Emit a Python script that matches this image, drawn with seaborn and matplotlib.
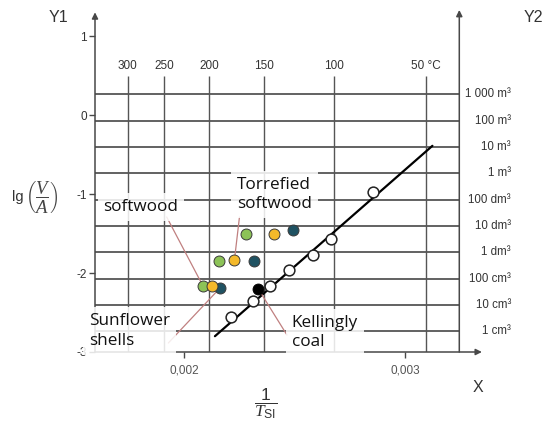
import numpy as np
import pandas as pd
import matplotlib
matplotlib.use("Agg")
import matplotlib.pyplot as plt
from matplotlib.transforms import blended_transform_factory
import seaborn as sns

sns.set_theme(style="white")
plt.rcParams['font.family'] = ['Liberation Sans', 'DejaVu Sans']
plt.rcParams['mathtext.fontset'] = 'custom'
plt.rcParams['mathtext.rm'] = 'Liberation Sans'
plt.rcParams['mathtext.it'] = 'Liberation Serif:italic'
plt.rcParams['mathtext.bf'] = 'Liberation Sans:bold'

# ---- data -------------------------------------------------------------
# temperature reference lines (deg C) shown along the top
temps_c = [300, 250, 200, 150, 100, 50]
temp_labels = ["300", "250", "200", "150", "100", "50 °C"]

# volume decades (exponent of m³) on the right-hand scale
vol_exponents = [3, 2, 1, 0, -1, -2, -3, -4, -5, -6]
vol_labels = ["1 000 m³", "100 m³", "10 m³", "1 m³", "100 dm³", "10 dm³",
              "1 dm³", "100 cm³", "10 cm³", "1 cm³"]

# left-hand scale ticks
y1_ticks = [1, 0, -1, -2, -3]
x_ticks = [0.002, 0.003]
x_tick_labels = ["0,002", "0,003"]

# biomass samples: 1/T (1/K) and lg(V/A)
green_x = [0.002281, 0.002160, 0.002087]
green_y = [-1.51, -1.85, -2.17]
yellow_x = [0.002409, 0.002228, 0.002128]
yellow_y = [-1.50, -1.84, -2.17]
teal_x = [0.002495, 0.002315, 0.002163]
teal_y = [-1.46, -1.85, -2.19]

# Kellingly coal
coal_x = [0.002336]
coal_y = [-2.20]

# reference measurements and fitted line
ref_x = [0.002211, 0.002314, 0.002389, 0.002477, 0.002582, 0.002664, 0.002854]
ref_y = [-2.56, -2.35, -2.17, -1.96, -1.77, -1.57, -0.97]
fit_x = [0.002140, 0.003124]
fit_y = [-2.80, -0.39]

# ---- figure -----------------------------------------------------------
fig = plt.figure(figsize=(5.44, 4.25), dpi=100)
ax = fig.add_axes([95 / 544, 73 / 425, 364.3 / 544, 340 / 425])
XMIN, XMAX = 0.0015973, 0.0032457
YMIN, YMAX = -3.0, 1.304
ax.set_xlim(XMIN, XMAX)
ax.set_ylim(YMIN, YMAX)
for s in ax.spines.values():
    s.set_visible(False)

grid_c = "#555555"
axis_c = "#484848"

# volume gridlines (3 decades of volume per unit of lg(V/A))
vol_y = [e / 3 - 0.738 for e in vol_exponents]
ax.hlines(vol_y, XMIN, XMAX, color=grid_c, lw=1.3, zorder=1)
# temperature gridlines
temp_x = [1 / (t + 273.15) for t in temps_c]
ax.vlines(temp_x, YMIN, 0.494, color=grid_c, lw=1.0, zorder=1)
for tx, lab in zip(temp_x, temp_labels):
    ax.text(tx, 0.62, lab, ha="center", va="center", fontsize=8.5,
            color="#333333")

# axes with arrow heads
arrow = dict(arrowstyle="-|>", color=axis_c, lw=1.1, mutation_scale=9,
             shrinkA=0, shrinkB=0)
ax.annotate("", xy=(XMIN, 1.30), xytext=(XMIN, YMIN), arrowprops=arrow,
            annotation_clip=False, zorder=2)
ax.annotate("", xy=(XMAX, 1.33), xytext=(XMAX, YMIN), arrowprops=arrow,
            annotation_clip=False, zorder=2)
ax.annotate("", xy=(0.003348, YMIN), xytext=(XMIN, YMIN), arrowprops=arrow,
            annotation_clip=False, zorder=2)

# ticks
ax.set_yticks(y1_ticks)
ax.set_yticklabels([str(t) for t in y1_ticks])
ax.set_xticks(x_ticks)
ax.set_xticklabels(x_tick_labels)
ax.tick_params(axis="y", left=True, length=4, width=1, color=axis_c, pad=2,
               labelsize=8.5, labelcolor="#333333")
ax.tick_params(axis="x", bottom=True, length=4, width=1, color=axis_c, pad=5,
               labelsize=8.5, labelcolor="#555555")

# right-hand volume labels
trans = blended_transform_factory(ax.transAxes, ax.transData)
for vy, lab in zip(vol_y, vol_labels):
    ax.text(1.142, vy, lab, transform=trans, ha="right", va="center",
            fontsize=8.3, color="#333333")

# axis titles
fig.text(58 / 544, 1 - 17 / 425, "Y1", ha="center", va="center", fontsize=11.5,
         color="#333333")
fig.text(533 / 544, 1 - 18 / 425, "Y2", ha="center", va="center", fontsize=11.5,
         color="#333333")
fig.text(478 / 544, 1 - 387 / 425, "X", ha="center", va="center", fontsize=11.5,
         color="#333333")
fig.text(18 / 544, 1 - 197 / 425, "lg", ha="center", va="center",
         fontsize=10.5, color="#333333")
fig.text(42 / 544, 1 - 197 / 425, r"$\left(\dfrac{V}{A}\right)$",
         ha="center", va="center", fontsize=13.5, color="#444444")
fig.text(266 / 544, 1 - 404 / 425, r"$\dfrac{1}{T_{\mathrm{SI}}}$",
         ha="center", va="center", fontsize=12.5, color="#333333")

# fitted line and reference points
sns.lineplot(x=fit_x, y=fit_y, ax=ax, color="black", lw=1.6, zorder=3)
sns.scatterplot(x=ref_x, y=ref_y, ax=ax, s=60, facecolor="white",
                edgecolor="#222222", linewidth=1.1, zorder=4)

# leader lines from labels to samples
lead_c = "#c08080"
leaders = [((0.0019217, -1.291), (green_x[2], green_y[2])),
           ((0.002251, -1.291), (yellow_x[1], yellow_y[1])),
           ((0.001929, -2.886), (teal_x[2], teal_y[2])),
           ((0.002466, -2.785), (coal_x[0], coal_y[0]))]
for (x0, y0), (x1, y1) in leaders:
    ax.plot([x0, x1], [y0, y1], color=lead_c, lw=0.9, zorder=3, clip_on=False)

# sample points
samples = pd.DataFrame({
    "inv_T": green_x + teal_x + yellow_x,
    "lg_VA": green_y + teal_y + yellow_y,
    "group": ["green"] * 3 + ["teal"] * 3 + ["yellow"] * 3,
})
colors = {"green": "#8cc257", "teal": "#1f5262", "yellow": "#f4b92a"}
for g in ["green", "teal", "yellow"]:
    d = samples[samples["group"] == g]
    sns.scatterplot(data=d, x="inv_T", y="lg_VA", ax=ax, s=62,
                    color=colors[g], edgecolor="#3a3a3a", linewidth=0.7,
                    zorder=6)
sns.scatterplot(x=coal_x, y=coal_y, ax=ax, s=62, color="black",
                edgecolor="black", zorder=6)

# text labels with light boxes
box = dict(boxstyle="square,pad=0.35", facecolor="white", edgecolor="none",
           alpha=0.85)
lab_font = dict(family=["Open Sans", "DejaVu Sans"], fontsize=12.3,
                color="#111111", zorder=5)
ax.text(0.0018054, -1.165, "softwood", ha="center", va="center", bbox=box,
        **lab_font)
ax.text(0.0022398, -1.006, "Torrefied\nsoftwood", ha="left", va="center",
        linespacing=1.3, bbox=box, **lab_font)
ax.text(0.00157, -2.734, "Sunflower\nshells", ha="left", va="center",
        linespacing=1.3, bbox=box, clip_on=False, **lab_font)
ax.text(0.0024873, -2.753, "Kellingly\ncoal", ha="left", va="center",
        linespacing=1.3, bbox=box, **lab_font)

ax.set_xlabel("")
ax.set_ylabel("")
fig.savefig("out.png", dpi=100)
